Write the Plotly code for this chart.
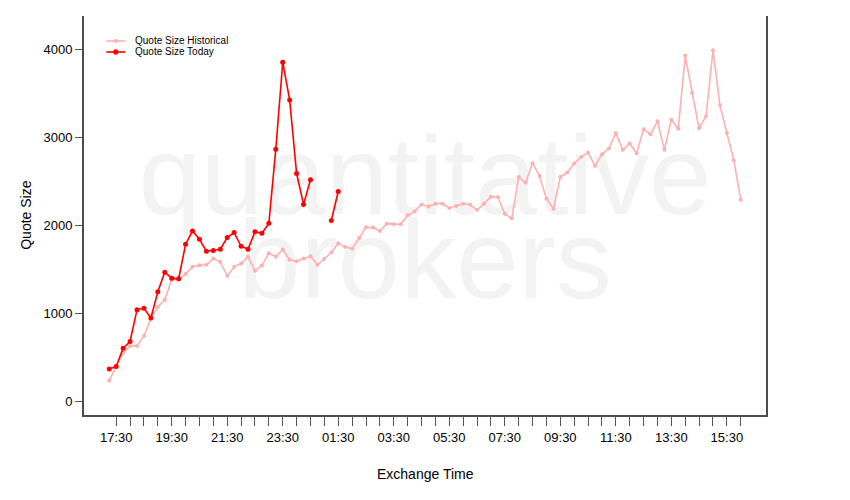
import pandas as pd
import plotly.graph_objects as go

# ---- data ----
start_time = "2014-01-06 17:15"
n_points = 92
times = pd.date_range(start_time, periods=n_points, freq="15min")

historical = [
    234, 400, 548, 627, 627, 740, 937, 1069, 1152, 1379,
    1382, 1443, 1526, 1545, 1549, 1620, 1583, 1424, 1526, 1564,
    1640, 1481, 1540, 1680, 1640, 1722, 1606, 1590, 1620, 1647,
    1549, 1617, 1688, 1794, 1750, 1730, 1853, 1975, 1972, 1934,
    2017, 2009, 2009, 2111, 2156, 2236, 2213, 2244, 2244, 2195,
    2218, 2244, 2232, 2172, 2244, 2323, 2320, 2130, 2077, 2546,
    2485, 2705, 2561, 2300, 2187, 2546, 2598, 2700, 2776, 2825,
    2674, 2807, 2870, 3048, 2856, 2930, 2814, 3090, 3033, 3181,
    2856, 3199, 3097, 3929, 3505, 3101, 3237, 3989, 3362, 3048,
    2739, 2289,
]

today = [
    363, 393, 601, 677, 1039, 1054, 944, 1243, 1465, 1397,
    1390, 1782, 1934, 1839, 1703, 1711, 1726, 1858, 1915, 1760,
    1726, 1926, 1907, 2020, 2863, 3853, 3422, 2587, 2236, 2516,
    None, None, 2054, 2383,
]

major_tick_times = pd.date_range("2014-01-06 17:30", "2014-01-07 15:30", freq="2h")
minor_tick_times = pd.date_range("2014-01-06 17:30", "2014-01-07 16:00", freq="30min")
tick_labels = [t.strftime("%H:%M") for t in major_tick_times]
y_ticks = [0, 1000, 2000, 3000, 4000]

series_names = ["Quote Size Historical", "Quote Size Today"]
series_colors = ["#ffb0b0", "#ff0000"]
watermark_words = ["quantitative", "brokers"]

# ---- figure ----
FONT = "Liberation Sans, Arial, Helvetica, sans-serif"
pad = pd.Timedelta(minutes=54.6)
x_range = [times[0] - pad, times[-1] + pad]
mid_time = times[0] + (times[-1] - times[0]) / 2

fig = go.Figure()

# watermark (drawn first so it sits below the data)
fig.add_trace(go.Scatter(
    x=[mid_time, mid_time], y=[2449, 1494],
    mode="text", text=watermark_words,
    textposition="middle center",
    textfont=dict(family=FONT, size=112, color="#f3f3f3"),
    hoverinfo="skip", showlegend=False,
))

fig.add_trace(go.Scatter(
    x=times, y=historical, name=series_names[0],
    mode="lines+markers",
    line=dict(color=series_colors[0], width=1.6),
    marker=dict(color=series_colors[0], size=4),
    showlegend=False,
))

fig.add_trace(go.Scatter(
    x=times[:len(today)], y=today, name=series_names[1],
    mode="lines+markers",
    line=dict(color=series_colors[1], width=1.6),
    marker=dict(color=series_colors[1], size=5),
    connectgaps=False, showlegend=False,
))

# plot area in window pixels (page has an 8px body margin)
PL, PR, PT, PB = 83.7, 765.7, 15.7, 415.0
PW, PH = PR - PL, PB - PT


def px(xp):
    return (xp - PL) / PW


def py(yp):
    return (PB - yp) / PH


shapes = []
annotations = []
legend_rows = [40.7, 51.7]
marker_r = [2.0, 2.6]
for name, color, row, r in zip(series_names, series_colors, legend_rows, marker_r):
    shapes.append(dict(type="line", xref="paper", yref="paper",
                       x0=px(106), x1=px(125), y0=py(row), y1=py(row),
                       line=dict(color=color, width=1.6)))
    shapes.append(dict(type="circle", xref="paper", yref="paper",
                       x0=px(115.5 - r), x1=px(115.5 + r),
                       y0=py(row + r), y1=py(row - r),
                       fillcolor=color, line=dict(color=color, width=0)))
    annotations.append(dict(text=name, xref="paper", yref="paper",
                            x=px(133), y=py(row), xanchor="left", yanchor="middle",
                            showarrow=False, font=dict(size=10, family=FONT)))

annotations += [
    dict(text="Exchange Time", xref="paper", yref="paper",
         x=0.5, y=py(474), xanchor="center", yanchor="middle",
         showarrow=False, font=dict(size=14)),
    dict(text="Quote Size", xref="paper", yref="paper",
         x=px(25), y=0.5, xanchor="center", yanchor="middle",
         textangle=-90, showarrow=False, font=dict(size=14)),
]

fig.update_layout(
    width=850, height=500,
    margin=dict(l=PL - 8, r=858 - PR, t=PT - 8, b=508 - PB, pad=0),
    paper_bgcolor="white", plot_bgcolor="white",
    font=dict(family=FONT, size=13, color="#000000"),
    showlegend=False,
    xaxis=dict(
        type="date", range=x_range,
        tickmode="array", tickvals=list(major_tick_times), ticktext=tick_labels,
        ticks="outside", ticklen=9, tickwidth=1, tickcolor="#555555",
        minor=dict(tickmode="array", tickvals=list(minor_tick_times),
                   ticks="outside", ticklen=9, tickwidth=1, tickcolor="#555555",
                   showgrid=False),
        showline=True, linecolor="#4d4d4d", linewidth=2, mirror=False,
        showgrid=False, zeroline=False,
        tickfont=dict(size=13),
    ),
    yaxis=dict(
        range=[-159, 4378],
        tickmode="array", tickvals=y_ticks,
        ticks="outside", ticklen=7, tickwidth=1, tickcolor="#555555",
        showline=True, linecolor="#4d4d4d", linewidth=2, mirror=True,
        showgrid=False, zeroline=False,
        tickfont=dict(size=13),
    ),
    shapes=shapes,
    annotations=annotations,
)

fig.write_html("out.html")
